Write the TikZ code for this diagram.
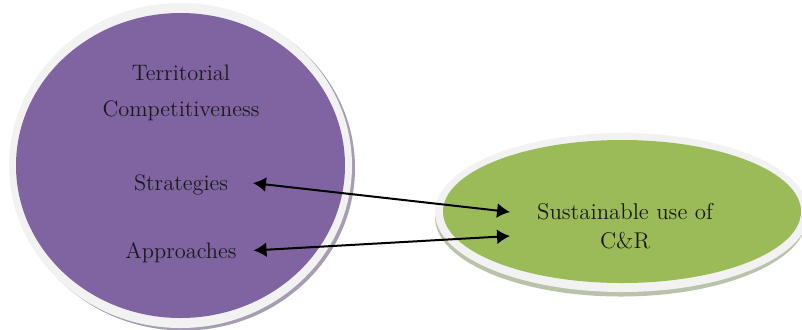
\documentclass[tikz,border=0pt]{standalone}
\usetikzlibrary{arrows.meta,positioning,calc}
\definecolor{tcpurple}{HTML}{8064A2}
\definecolor{tcshade}{HTML}{A69DB3}
\definecolor{sugreen}{HTML}{9BBB59}
\definecolor{sushade}{HTML}{B9C3AA}
\definecolor{rimgray}{HTML}{F2F2F2}

\begin{document}
\begin{tikzpicture}[x=0.5pt,y=-0.5pt,
  lbl/.style={font=\fontsize{11.2}{18}\selectfont, align=center, text=black!90},
  arr/.style={line width=1pt, {Latex[length=6.5pt,width=7.5pt]}-{Latex[length=6.5pt,width=7.5pt]}}
]
  \useasboundingbox (0,0) rectangle (802,329);
  % purple disc with rim and edge
  \fill[tcshade] (183.5,168) ellipse [x radius=171.5, y radius=162.5];
  \fill[rimgray] (180.5,165.5) ellipse [x radius=171.5, y radius=162.5];
  \fill[tcpurple] (180.5,165.5) ellipse [x radius=164.5, y radius=152.5];
  % green disc with rim and edge
  \fill[sushade] (621,217) ellipse [x radius=186, y radius=79.5];
  \fill[rimgray] (622,212.5) ellipse [x radius=187, y radius=79.5];
  \fill[sugreen] (622,211.5) ellipse [x radius=179, y radius=71.5];
  % texts
  \node[lbl] (title) at (181,93) {Territorial\\Competitiveness};
  \node[lbl] (strat) at (181,185) {Strategies};
  \node[lbl] (appr) at (181,253) {Approaches};
  \node[lbl, font=\fontsize{11.4}{14.5}\selectfont] (sust) at (625,226) {Sustainable use of\\C\&R};
  % links
  \draw[arr, shorten <=9pt] ($(strat.east)+(0,-4)$) -- ($(sust.west)+(-20,-14)$);
  \draw[arr, shorten <=5pt] ($(appr.east)+(0,-2)$) -- ($(sust.west)+(-20,10)$);
\end{tikzpicture}
\end{document}
